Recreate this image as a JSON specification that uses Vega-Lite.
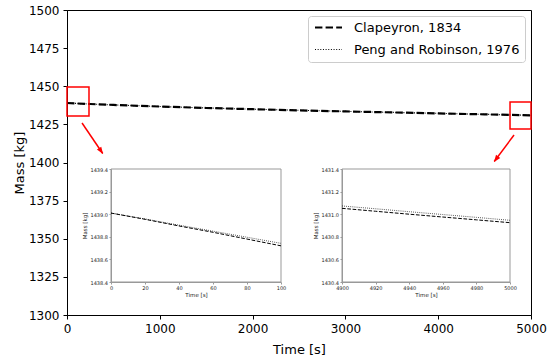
{
  "$schema": "https://vega.github.io/schema/vega-lite/v6.json",
  "width": 464,
  "height": 305,
  "autosize": {"type": "none"},
  "padding": {"left": 67, "top": 10, "right": 19, "bottom": 44},
  "background": "white",
  "config": {
    "font": "DejaVu Sans",
    "view": {"stroke": "black", "strokeWidth": 1},
    "axis": {"grid": false, "zindex": 1, "labelOverlap": false, "domainColor": "black", "tickColor": "black", "labelColor": "black", "titleColor": "black", "titleFontWeight": "normal"}
  },
  "resolve": {
    "scale": {"x": "independent", "y": "independent", "strokeDash": "independent", "strokeWidth": "independent", "color": "independent"},
    "axis": {"x": "independent", "y": "independent"},
    "legend": {"strokeDash": "independent", "strokeWidth": "independent"}
  },
  "layer": [
    {
      "encoding": {
        "x": {"field": "t", "type": "quantitative", "title": "Time [s]",
              "scale": {"domain": [0, 5000], "nice": false, "zero": false},
              "axis": {"values": [0, 1000, 2000, 3000, 4000, 5000], "format": "d", "labelFontSize": 12, "titleFontSize": 13, "tickSize": 4, "labelPadding": 4, "titlePadding": 9, "labelFlush": false}},
        "y": {"field": "mass", "type": "quantitative", "title": "Mass [kg]",
              "scale": {"domain": [1300, 1500], "nice": false, "zero": false},
              "axis": {"values": [1300, 1325, 1350, 1375, 1400, 1425, 1450, 1475, 1500], "format": "d", "labelFontSize": 12, "titleFontSize": 13, "tickSize": 4, "labelPadding": 4, "titlePadding": 2, "labelFlush": false}}
      },
      "layer": [
        {
          "data": {"values": [
            {"model": "Peng and Robinson, 1976", "t": 0, "mass": 1439.0},
            {"model": "Peng and Robinson, 1976", "t": 250, "mass": 1438.36},
            {"model": "Peng and Robinson, 1976", "t": 500, "mass": 1437.76},
            {"model": "Peng and Robinson, 1976", "t": 1000, "mass": 1436.71},
            {"model": "Peng and Robinson, 1976", "t": 1500, "mass": 1435.77},
            {"model": "Peng and Robinson, 1976", "t": 2000, "mass": 1434.97},
            {"model": "Peng and Robinson, 1976", "t": 2500, "mass": 1434.22},
            {"model": "Peng and Robinson, 1976", "t": 3000, "mass": 1433.52},
            {"model": "Peng and Robinson, 1976", "t": 3500, "mass": 1432.87},
            {"model": "Peng and Robinson, 1976", "t": 4000, "mass": 1432.22},
            {"model": "Peng and Robinson, 1976", "t": 4500, "mass": 1431.59},
            {"model": "Peng and Robinson, 1976", "t": 5000, "mass": 1430.95},
            {"model": "Clapeyron, 1834", "t": 0, "mass": 1439.0},
            {"model": "Clapeyron, 1834", "t": 250, "mass": 1438.35},
            {"model": "Clapeyron, 1834", "t": 500, "mass": 1437.75},
            {"model": "Clapeyron, 1834", "t": 1000, "mass": 1436.7},
            {"model": "Clapeyron, 1834", "t": 1500, "mass": 1435.75},
            {"model": "Clapeyron, 1834", "t": 2000, "mass": 1434.95},
            {"model": "Clapeyron, 1834", "t": 2500, "mass": 1434.2},
            {"model": "Clapeyron, 1834", "t": 3000, "mass": 1433.5},
            {"model": "Clapeyron, 1834", "t": 3500, "mass": 1432.85},
            {"model": "Clapeyron, 1834", "t": 4000, "mass": 1432.2},
            {"model": "Clapeyron, 1834", "t": 4500, "mass": 1431.57},
            {"model": "Clapeyron, 1834", "t": 5000, "mass": 1430.93}
          ]},
          "mark": {"type": "line", "color": "black"},
          "encoding": {
            "strokeDash": {"field": "model", "type": "nominal",
                  "scale": {"domain": ["Clapeyron, 1834", "Peng and Robinson, 1976"], "range": [[7.4, 3.2], [1, 1.65]]},
                  "legend": {"title": null, "orient": "top-right", "offset": 6, "labelFontSize": 13, "labelColor": "black", "labelLimit": 400, "symbolType": "M-2.7,0L2.7,0", "symbolSize": 100, "symbolStrokeColor": "black", "symbolOffset": 9, "labelOffset": 19, "rowPadding": 8, "padding": 5, "fillColor": "white", "strokeColor": "#cccccc", "cornerRadius": 3}},
            "strokeWidth": {"field": "model", "type": "nominal",
                  "scale": {"domain": ["Clapeyron, 1834", "Peng and Robinson, 1976"], "range": [2.2, 1.1]},
                  "legend": {"title": null, "orient": "top-right", "offset": 6, "labelFontSize": 13, "labelColor": "black", "labelLimit": 400, "symbolType": "M-2.7,0L2.7,0", "symbolSize": 100, "symbolStrokeColor": "black", "symbolOffset": 9, "labelOffset": 19, "rowPadding": 8, "padding": 5, "fillColor": "white", "strokeColor": "#cccccc", "cornerRadius": 3}},
            "order": {"field": "t", "type": "quantitative"}
          }
        },
        {
          "data": {"values": [
            {"t": 0, "t1": 237, "mass": 1430.5, "mass1": 1449.5},
            {"t": 4774, "t1": 5000, "mass": 1422.0, "mass1": 1439.7}
          ]},
          "mark": {"type": "rect", "fillOpacity": 0, "stroke": "#ff0000", "strokeWidth": 1.5},
          "encoding": {
            "x2": {"field": "t1"},
            "y2": {"field": "mass1"}
          }
        },
        {
          "data": {"values": [
            {"t": 162, "t1": 385, "mass": 1425.9, "mass1": 1405.9},
            {"t": 4817, "t1": 4604, "mass": 1418.0, "mass1": 1400.7}
          ]},
          "mark": {"type": "rule", "color": "#ff0000", "strokeWidth": 1.5},
          "encoding": {
            "x2": {"field": "t1"},
            "y2": {"field": "mass1"}
          }
        },
        {
          "data": {"values": [{"t": 388, "mass": 1405.6}]},
          "mark": {"type": "point", "filled": true, "color": "#ff0000", "opacity": 1, "shape": "M0,0L-0.75,2L0.75,2Z", "size": 49, "angle": 146}
        },
        {
          "data": {"values": [{"t": 4601, "mass": 1400.3}]},
          "mark": {"type": "point", "filled": true, "color": "#ff0000", "opacity": 1, "shape": "M0,0L-0.75,2L0.75,2Z", "size": 49, "angle": 216.5}
        }
      ]
    },
    {
      "layer": [
        {
          "data": {"values": [{}]},
          "mark": {"type": "rect", "fillOpacity": 0, "stroke": "#999999", "strokeWidth": 1},
          "encoding": {
            "x": {"datum": 0, "type": "quantitative", "title": "Time [s]", "scale": {"domain": [0, 100], "range": [44, 214], "nice": false, "zero": false}},
            "x2": {"datum": 100},
            "y": {"datum": 1438.4, "type": "quantitative", "title": "Mass [kg]", "scale": {"domain": [1438.4, 1439.4], "range": [272, 159], "nice": false, "zero": false}},
            "y2": {"datum": 1439.4}
          }
        },
        {
          "data": {"values": [
            {"model": "Peng and Robinson, 1976", "t": 0, "mass": 1439.01},
            {"model": "Peng and Robinson, 1976", "t": 20, "mass": 1438.958},
            {"model": "Peng and Robinson, 1976", "t": 40, "mass": 1438.903},
            {"model": "Peng and Robinson, 1976", "t": 60, "mass": 1438.85},
            {"model": "Peng and Robinson, 1976", "t": 80, "mass": 1438.796},
            {"model": "Peng and Robinson, 1976", "t": 100, "mass": 1438.742},
            {"model": "Clapeyron, 1834", "t": 0, "mass": 1439.01},
            {"model": "Clapeyron, 1834", "t": 20, "mass": 1438.955},
            {"model": "Clapeyron, 1834", "t": 40, "mass": 1438.896},
            {"model": "Clapeyron, 1834", "t": 60, "mass": 1438.84},
            {"model": "Clapeyron, 1834", "t": 80, "mass": 1438.78},
            {"model": "Clapeyron, 1834", "t": 100, "mass": 1438.72}
          ]},
          "mark": {"type": "line", "color": "black"},
          "encoding": {
            "x": {"field": "t", "type": "quantitative", "title": "Time [s]",
                  "scale": {"domain": [0, 100], "range": [44, 214], "nice": false, "zero": false},
                  "axis": {"orient": "bottom", "offset": -33, "values": [0, 20, 40, 60, 80, 100], "labelFontSize": 5, "titleFontSize": 5.5, "tickSize": 2, "labelPadding": 1.5, "titlePadding": 2, "domainColor": "#999999", "tickColor": "#999999", "labelColor": "#222222", "titleColor": "#222222", "labelFlush": false}},
            "y": {"field": "mass", "type": "quantitative", "title": "Mass [kg]",
                  "scale": {"domain": [1438.4, 1439.4], "range": [272, 159], "nice": false, "zero": false},
                  "axis": {"orient": "left", "offset": -44, "values": [1438.4, 1438.6, 1438.8, 1439.0, 1439.2, 1439.4], "format": ".1f", "labelFontSize": 5, "titleFontSize": 5.5, "tickSize": 2, "labelPadding": 1.5, "titlePadding": 3, "domainColor": "#999999", "tickColor": "#999999", "labelColor": "#222222", "titleColor": "#222222", "labelFlush": false}},
            "strokeDash": {"field": "model", "type": "nominal", "legend": null,
                  "scale": {"domain": ["Clapeyron, 1834", "Peng and Robinson, 1976"], "range": [[3.7, 1.6], [0.8, 1.3]]}},
            "strokeWidth": {"field": "model", "type": "nominal", "legend": null,
                  "scale": {"domain": ["Clapeyron, 1834", "Peng and Robinson, 1976"], "range": [1.0, 0.8]}},
            "order": {"field": "t", "type": "quantitative"}
          }
        }
      ]
    },
    {
      "layer": [
        {
          "data": {"values": [{}]},
          "mark": {"type": "rect", "fillOpacity": 0, "stroke": "#999999", "strokeWidth": 1},
          "encoding": {
            "x": {"datum": 4900, "type": "quantitative", "title": "Time [s]", "scale": {"domain": [4900, 5000], "range": [275, 443], "nice": false, "zero": false}},
            "x2": {"datum": 5000},
            "y": {"datum": 1430.4, "type": "quantitative", "title": "Mass [kg]", "scale": {"domain": [1430.4, 1431.4], "range": [272, 159], "nice": false, "zero": false}},
            "y2": {"datum": 1431.4}
          }
        },
        {
          "data": {"values": [
            {"model": "Peng and Robinson, 1976", "t": 4900, "mass": 1431.073},
            {"model": "Peng and Robinson, 1976", "t": 4920, "mass": 1431.048},
            {"model": "Peng and Robinson, 1976", "t": 4940, "mass": 1431.022},
            {"model": "Peng and Robinson, 1976", "t": 4960, "mass": 1430.997},
            {"model": "Peng and Robinson, 1976", "t": 4980, "mass": 1430.972},
            {"model": "Peng and Robinson, 1976", "t": 5000, "mass": 1430.946},
            {"model": "Clapeyron, 1834", "t": 4900, "mass": 1431.052},
            {"model": "Clapeyron, 1834", "t": 4920, "mass": 1431.026},
            {"model": "Clapeyron, 1834", "t": 4940, "mass": 1431.0},
            {"model": "Clapeyron, 1834", "t": 4960, "mass": 1430.975},
            {"model": "Clapeyron, 1834", "t": 4980, "mass": 1430.95},
            {"model": "Clapeyron, 1834", "t": 5000, "mass": 1430.925}
          ]},
          "mark": {"type": "line", "color": "black"},
          "encoding": {
            "x": {"field": "t", "type": "quantitative", "title": "Time [s]",
                  "scale": {"domain": [4900, 5000], "range": [275, 443], "nice": false, "zero": false},
                  "axis": {"orient": "bottom", "offset": -33, "values": [4900, 4920, 4940, 4960, 4980, 5000], "format": "d", "labelFontSize": 5, "titleFontSize": 5.5, "tickSize": 2, "labelPadding": 1.5, "titlePadding": 2, "domainColor": "#999999", "tickColor": "#999999", "labelColor": "#222222", "titleColor": "#222222", "labelFlush": false}},
            "y": {"field": "mass", "type": "quantitative", "title": "Mass [kg]",
                  "scale": {"domain": [1430.4, 1431.4], "range": [272, 159], "nice": false, "zero": false},
                  "axis": {"orient": "left", "offset": -275, "values": [1430.4, 1430.6, 1430.8, 1431.0, 1431.2, 1431.4], "format": ".1f", "labelFontSize": 5, "titleFontSize": 5.5, "tickSize": 2, "labelPadding": 1.5, "titlePadding": 3, "domainColor": "#999999", "tickColor": "#999999", "labelColor": "#222222", "titleColor": "#222222", "labelFlush": false}},
            "strokeDash": {"field": "model", "type": "nominal", "legend": null,
                  "scale": {"domain": ["Clapeyron, 1834", "Peng and Robinson, 1976"], "range": [[3.7, 1.6], [0.8, 1.3]]}},
            "strokeWidth": {"field": "model", "type": "nominal", "legend": null,
                  "scale": {"domain": ["Clapeyron, 1834", "Peng and Robinson, 1976"], "range": [1.0, 0.8]}},
            "order": {"field": "t", "type": "quantitative"}
          }
        }
      ]
    }
  ]
}
